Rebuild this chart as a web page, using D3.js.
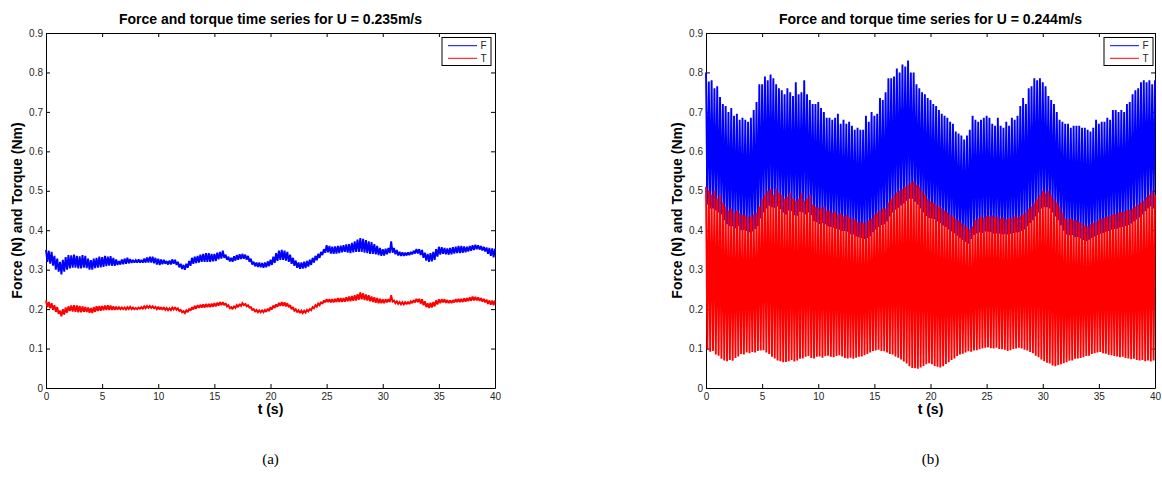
<!DOCTYPE html>
<html>
<head>
<meta charset="utf-8">
<script src="https://cdn.jsdelivr.net/npm/d3@7"></script>
<style>body{margin:0;background:#fff}</style>
</head>
<body>
<svg id="fig" width="1162" height="485"></svg>
<script>
// ---- data (one peak / one trough per oscillation cycle) ----
// panel (a): U = 0.235 m/s
const aForcePeak = [
  0.35, 0.348, 0.345, 0.335, 0.328, 0.32, 0.325, 0.332, 0.337, 0.336, 0.338, 0.335, 0.334, 0.337, 0.335, 0.328, 0.324, 0.328, 0.33, 0.333,
  0.332, 0.335, 0.333, 0.334, 0.33, 0.326, 0.322, 0.326, 0.328, 0.33, 0.327, 0.325, 0.324, 0.326, 0.325, 0.328, 0.331, 0.333, 0.333, 0.33,
  0.328, 0.326, 0.325, 0.322, 0.323, 0.326, 0.325, 0.32, 0.315, 0.312, 0.315, 0.322, 0.33, 0.333, 0.335, 0.338, 0.34, 0.342, 0.342, 0.34,
  0.34, 0.343, 0.345, 0.348, 0.338, 0.333, 0.33, 0.334, 0.337, 0.339, 0.34, 0.338, 0.335, 0.328, 0.32, 0.318, 0.318, 0.317, 0.318, 0.321,
  0.325, 0.333, 0.342, 0.348, 0.35, 0.348, 0.345, 0.338, 0.33, 0.323, 0.318, 0.318, 0.32, 0.322, 0.325, 0.33, 0.335, 0.34, 0.345, 0.352,
  0.362, 0.36, 0.358, 0.359, 0.36, 0.361, 0.362, 0.364, 0.365, 0.368, 0.372, 0.376, 0.38, 0.378, 0.375, 0.372, 0.37, 0.365, 0.36, 0.355,
  0.352, 0.353, 0.355, 0.372, 0.355, 0.35, 0.345, 0.344, 0.343, 0.344, 0.345, 0.348, 0.352, 0.352, 0.35, 0.343, 0.34, 0.342, 0.345, 0.352,
  0.358, 0.357, 0.355, 0.354, 0.355, 0.357, 0.358, 0.36, 0.36, 0.359, 0.358, 0.36, 0.362, 0.363, 0.362, 0.36, 0.358, 0.356, 0.355, 0.354,
  0.353
];
const aForceTrough = [
  0.32, 0.315, 0.31, 0.3, 0.295, 0.288, 0.295, 0.3, 0.303, 0.305, 0.305, 0.303, 0.303, 0.305, 0.304, 0.3, 0.3, 0.304, 0.305, 0.306,
  0.307, 0.309, 0.31, 0.31, 0.31, 0.312, 0.313, 0.314, 0.315, 0.316, 0.317, 0.318, 0.318, 0.318, 0.318, 0.318, 0.318, 0.318, 0.316, 0.313,
  0.312, 0.314, 0.315, 0.313, 0.313, 0.315, 0.312, 0.306, 0.302, 0.3, 0.305, 0.31, 0.315, 0.317, 0.318, 0.32, 0.32, 0.32, 0.32, 0.321,
  0.322, 0.326, 0.328, 0.33, 0.325, 0.321, 0.32, 0.323, 0.325, 0.327, 0.328, 0.325, 0.32, 0.313, 0.309, 0.307, 0.306, 0.305, 0.306, 0.309,
  0.312, 0.317, 0.322, 0.325, 0.325, 0.323, 0.32, 0.315, 0.31, 0.305, 0.302, 0.303, 0.304, 0.308, 0.312, 0.318, 0.324, 0.33, 0.337, 0.343,
  0.344, 0.341, 0.34, 0.341, 0.342, 0.344, 0.345, 0.343, 0.342, 0.344, 0.345, 0.345, 0.345, 0.343, 0.342, 0.34, 0.34, 0.339, 0.337, 0.335,
  0.336, 0.339, 0.342, 0.343, 0.339, 0.336, 0.335, 0.335, 0.336, 0.337, 0.339, 0.341, 0.341, 0.337, 0.33, 0.323, 0.32, 0.321, 0.325, 0.333,
  0.338, 0.34, 0.339, 0.338, 0.339, 0.341, 0.342, 0.342, 0.343, 0.344, 0.346, 0.348, 0.35, 0.352, 0.351, 0.349, 0.346, 0.34, 0.335, 0.331
];
const aTorquePeak = [
  0.222, 0.218, 0.215, 0.21, 0.205, 0.196, 0.2, 0.204, 0.207, 0.209, 0.21, 0.209, 0.208, 0.207, 0.205, 0.204, 0.203, 0.205, 0.207, 0.208,
  0.208, 0.209, 0.21, 0.209, 0.207, 0.206, 0.205, 0.204, 0.204, 0.205, 0.206, 0.204, 0.203, 0.204, 0.205, 0.207, 0.208, 0.208, 0.207, 0.206,
  0.206, 0.205, 0.205, 0.203, 0.202, 0.204, 0.205, 0.202, 0.198, 0.195, 0.197, 0.201, 0.205, 0.208, 0.21, 0.211, 0.212, 0.213, 0.213, 0.214,
  0.215, 0.216, 0.218, 0.218, 0.215, 0.21, 0.205, 0.208, 0.21, 0.213, 0.215, 0.213, 0.21, 0.205, 0.2, 0.198, 0.197, 0.197, 0.198, 0.201,
  0.205, 0.209, 0.212, 0.216, 0.218, 0.217, 0.215, 0.21, 0.205, 0.2, 0.197, 0.196, 0.196, 0.198, 0.2, 0.205, 0.21, 0.214, 0.218, 0.222,
  0.225, 0.225, 0.225, 0.226, 0.228, 0.228, 0.228, 0.23, 0.232, 0.233, 0.235, 0.238, 0.242, 0.24, 0.237, 0.235, 0.232, 0.23, 0.228, 0.226,
  0.225, 0.225, 0.225, 0.235, 0.222, 0.22, 0.218, 0.218, 0.218, 0.219, 0.22, 0.223, 0.226, 0.226, 0.225, 0.22, 0.215, 0.216, 0.218, 0.222,
  0.225, 0.225, 0.225, 0.223, 0.222, 0.223, 0.225, 0.226, 0.226, 0.227, 0.228, 0.23, 0.232, 0.231, 0.23, 0.228, 0.226, 0.224, 0.222, 0.222,
  0.222
];
const aTorqueTrough = [
  0.205, 0.202, 0.198, 0.193, 0.188, 0.182, 0.186, 0.191, 0.195, 0.194, 0.193, 0.192, 0.192, 0.193, 0.193, 0.191, 0.19, 0.193, 0.195, 0.196,
  0.197, 0.198, 0.198, 0.198, 0.198, 0.199, 0.2, 0.2, 0.199, 0.2, 0.2, 0.2, 0.2, 0.201, 0.201, 0.202, 0.203, 0.203, 0.202, 0.2,
  0.199, 0.198, 0.198, 0.197, 0.197, 0.199, 0.198, 0.195, 0.192, 0.19, 0.192, 0.196, 0.199, 0.201, 0.203, 0.204, 0.204, 0.205, 0.205, 0.206,
  0.207, 0.209, 0.21, 0.21, 0.207, 0.202, 0.2, 0.203, 0.205, 0.208, 0.21, 0.207, 0.204, 0.198, 0.194, 0.192, 0.192, 0.192, 0.193, 0.195,
  0.199, 0.203, 0.206, 0.208, 0.208, 0.207, 0.205, 0.2, 0.196, 0.192, 0.19, 0.19, 0.191, 0.194, 0.197, 0.202, 0.206, 0.21, 0.213, 0.217,
  0.218, 0.217, 0.217, 0.218, 0.218, 0.218, 0.219, 0.22, 0.22, 0.221, 0.222, 0.224, 0.225, 0.223, 0.222, 0.22, 0.218, 0.216, 0.215, 0.215,
  0.215, 0.217, 0.218, 0.219, 0.215, 0.213, 0.212, 0.212, 0.212, 0.213, 0.215, 0.217, 0.218, 0.214, 0.21, 0.205, 0.203, 0.204, 0.207, 0.212,
  0.215, 0.217, 0.216, 0.215, 0.215, 0.217, 0.218, 0.218, 0.218, 0.219, 0.22, 0.221, 0.222, 0.222, 0.221, 0.219, 0.217, 0.213, 0.211, 0.21
];

// panel (b): U = 0.244 m/s
const bForcePeak = [
  0.80, 0.777, 0.78, 0.76, 0.765, 0.738, 0.72, 0.715, 0.70, 0.71, 0.69, 0.695, 0.68, 0.685, 0.68, 0.675, 0.685, 0.705, 0.725, 0.77,
  0.77, 0.79, 0.78, 0.795, 0.785, 0.77, 0.76, 0.755, 0.745, 0.76, 0.75, 0.74, 0.775, 0.745, 0.75, 0.78, 0.745, 0.73, 0.72, 0.72,
  0.725, 0.71, 0.70, 0.685, 0.685, 0.68, 0.685, 0.695, 0.67, 0.68, 0.67, 0.675, 0.665, 0.655, 0.66, 0.655, 0.655, 0.69, 0.675, 0.70,
  0.69, 0.695, 0.735, 0.73, 0.75, 0.785, 0.785, 0.79, 0.81, 0.80, 0.82, 0.815, 0.83, 0.80, 0.80, 0.77, 0.76, 0.75, 0.745, 0.735,
  0.73, 0.72, 0.715, 0.705, 0.695, 0.69, 0.685, 0.675, 0.67, 0.65, 0.645, 0.64, 0.63, 0.64, 0.655, 0.69, 0.68, 0.675, 0.68, 0.685,
  0.69, 0.685, 0.67, 0.665, 0.685, 0.665, 0.66, 0.675, 0.665, 0.685, 0.68, 0.69, 0.715, 0.735, 0.72, 0.76, 0.765, 0.785, 0.78, 0.785,
  0.775, 0.765, 0.74, 0.73, 0.72, 0.70, 0.68, 0.675, 0.67, 0.67, 0.66, 0.665, 0.665, 0.665, 0.66, 0.66, 0.655, 0.65, 0.66, 0.68,
  0.67, 0.675, 0.675, 0.685, 0.68, 0.705, 0.705, 0.70, 0.705, 0.70, 0.72, 0.725, 0.745, 0.755, 0.76, 0.775, 0.78, 0.775, 0.78, 0.77,
  0.78
];
const bForceTrough = [
  0.465, 0.455, 0.455, 0.45, 0.445, 0.44, 0.425, 0.415, 0.41, 0.41, 0.405, 0.41, 0.40, 0.40, 0.398, 0.395, 0.397, 0.403, 0.41, 0.43,
  0.445, 0.455, 0.462, 0.458, 0.457, 0.46, 0.453, 0.445, 0.44, 0.45, 0.448, 0.438, 0.437, 0.447, 0.445, 0.44, 0.445, 0.438, 0.423, 0.42,
  0.416, 0.418, 0.415, 0.41, 0.408, 0.406, 0.404, 0.401, 0.398, 0.398, 0.396, 0.39, 0.389, 0.384, 0.382, 0.38, 0.378, 0.38, 0.385, 0.395,
  0.402, 0.408, 0.413, 0.415, 0.422, 0.435, 0.445, 0.452, 0.457, 0.463, 0.468, 0.475, 0.48, 0.48, 0.472, 0.465, 0.455, 0.445, 0.436, 0.431,
  0.43, 0.428, 0.422, 0.418, 0.412, 0.408, 0.402, 0.397, 0.392, 0.386, 0.38, 0.375, 0.37, 0.366, 0.378, 0.388, 0.392, 0.394, 0.393, 0.397,
  0.396, 0.395, 0.391, 0.392, 0.391, 0.389, 0.39, 0.389, 0.391, 0.393, 0.394, 0.395, 0.398, 0.402, 0.41, 0.418, 0.425, 0.435, 0.445, 0.455,
  0.458, 0.458, 0.455, 0.445, 0.435, 0.425, 0.412, 0.399, 0.389, 0.387, 0.388, 0.383, 0.383, 0.379, 0.375, 0.372, 0.376, 0.38, 0.384, 0.388,
  0.391, 0.393, 0.396, 0.398, 0.401, 0.403, 0.404, 0.407, 0.409, 0.411, 0.413, 0.417, 0.422, 0.427, 0.432, 0.44, 0.448, 0.455, 0.46, 0.455
];
const bTorquePeak = [
  0.51, 0.50, 0.49, 0.50, 0.48, 0.49, 0.47, 0.46, 0.45, 0.455, 0.445, 0.45, 0.443, 0.44, 0.438, 0.435, 0.434, 0.44, 0.445, 0.46,
  0.48, 0.49, 0.50, 0.505, 0.49, 0.505, 0.495, 0.49, 0.48, 0.485, 0.495, 0.48, 0.475, 0.48, 0.495, 0.475, 0.48, 0.49, 0.465, 0.46,
  0.458, 0.455, 0.46, 0.45, 0.45, 0.445, 0.447, 0.44, 0.443, 0.435, 0.44, 0.432, 0.43, 0.428, 0.42, 0.422, 0.418, 0.42, 0.425, 0.43,
  0.44, 0.445, 0.45, 0.455, 0.455, 0.47, 0.48, 0.49, 0.495, 0.50, 0.505, 0.51, 0.515, 0.52, 0.525, 0.515, 0.51, 0.50, 0.49, 0.48,
  0.473, 0.47, 0.465, 0.46, 0.455, 0.45, 0.445, 0.44, 0.434, 0.43, 0.425, 0.418, 0.413, 0.408, 0.403, 0.41, 0.426, 0.43, 0.435, 0.432,
  0.437, 0.435, 0.438, 0.433, 0.434, 0.43, 0.432, 0.428, 0.43, 0.432, 0.435, 0.433, 0.437, 0.44, 0.445, 0.455, 0.46, 0.47, 0.48, 0.49,
  0.50, 0.495, 0.50, 0.49, 0.48, 0.47, 0.46, 0.445, 0.43, 0.428, 0.43, 0.425, 0.426, 0.42, 0.418, 0.412, 0.41, 0.415, 0.418, 0.422,
  0.426, 0.43, 0.432, 0.435, 0.437, 0.44, 0.442, 0.445, 0.446, 0.448, 0.45, 0.452, 0.455, 0.46, 0.465, 0.47, 0.475, 0.485, 0.49, 0.50,
  0.49
];
const bTorqueTrough = [
  0.097, 0.092, 0.094, 0.085, 0.082, 0.074, 0.07, 0.068, 0.071, 0.069, 0.076, 0.08, 0.086, 0.085, 0.09, 0.088, 0.091, 0.09, 0.094, 0.095,
  0.096, 0.09, 0.086, 0.079, 0.075, 0.07, 0.068, 0.065, 0.066, 0.068, 0.071, 0.067, 0.07, 0.074, 0.075, 0.079, 0.081, 0.076, 0.075, 0.079,
  0.08, 0.077, 0.081, 0.082, 0.079, 0.078, 0.081, 0.083, 0.08, 0.076, 0.075, 0.077, 0.074, 0.077, 0.079, 0.08, 0.083, 0.086, 0.09, 0.094,
  0.095, 0.097, 0.094, 0.093, 0.09, 0.086, 0.085, 0.08, 0.077, 0.072, 0.067, 0.062, 0.055, 0.051, 0.05, 0.049, 0.052, 0.056, 0.06, 0.063,
  0.06, 0.056, 0.054, 0.052, 0.055, 0.061, 0.065, 0.071, 0.075, 0.081, 0.085, 0.087, 0.09, 0.093, 0.092, 0.095, 0.096, 0.098, 0.1, 0.102,
  0.103, 0.101, 0.1, 0.102, 0.099, 0.098, 0.097, 0.094, 0.096, 0.099, 0.1, 0.102, 0.1, 0.097, 0.095, 0.091, 0.088, 0.082, 0.078, 0.072,
  0.068, 0.064, 0.062, 0.057, 0.055, 0.058, 0.06, 0.063, 0.065, 0.069, 0.07, 0.074, 0.075, 0.076, 0.078, 0.081, 0.082, 0.086, 0.088, 0.09,
  0.091, 0.088, 0.087, 0.084, 0.083, 0.081, 0.08, 0.078, 0.079, 0.076, 0.075, 0.073, 0.074, 0.071, 0.07, 0.071, 0.068, 0.07, 0.067, 0.07
];

const tEnd = 40;
const xTicks = [0, 5, 10, 15, 20, 25, 30, 35, 40];
const yTicks = [0, 0.1, 0.2, 0.3, 0.4, 0.5, 0.6, 0.7, 0.8, 0.9];
const titles = ["Force and torque time series for U = 0.235m/s", "Force and torque time series for U = 0.244m/s"];
const captions = ["(a)", "(b)"];
const seriesNames = ["F", "T"];
const seriesColors = ["#0000ff", "#ff0000"];

// ---- layout ----
const sans = "'Liberation Sans', Arial, Helvetica, sans-serif";
const plotW = 449, plotTop = 33, plotBottom = 388;

const svg = d3.select("#fig")
  .attr("font-family", sans);

svg.append("rect").attr("width", 1162).attr("height", 485).attr("fill", "#fff");

const panels = [
  {left: 46, legendRight: 491, title: titles[0], caption: captions[0],
   series: [[aForcePeak, aForceTrough], [aTorquePeak, aTorqueTrough]]},
  {left: 706, legendRight: 1153, title: titles[1], caption: captions[1],
   series: [[bForcePeak, bForceTrough], [bTorquePeak, bTorqueTrough]]}
];

// alternate peak / trough samples along the time axis
function toPoints(peaks, troughs) {
  const dt = tEnd / (peaks.length - 1);
  const pts = [];
  peaks.forEach((p, i) => {
    pts.push([i * dt, p]);
    if (i < troughs.length) pts.push([(i + 0.5) * dt, troughs[i]]);
  });
  return pts;
}

function styleAxis(g) {
  g.attr("font-family", sans).attr("font-size", 10).attr("color", "#000");
  g.selectAll("text").attr("fill", "#262626");
  g.select(".domain").attr("stroke-width", 1);
}

function drawPanel(p) {
  const x = d3.scaleLinear().domain([0, tEnd]).range([p.left, p.left + plotW]);
  const y = d3.scaleLinear().domain([0, 0.9]).range([plotBottom, plotTop]);
  const g = svg.append("g");

  g.append("g")
    .attr("transform", `translate(0,${plotBottom})`)
    .call(d3.axisBottom(x).tickValues(xTicks).tickSizeInner(-4).tickSizeOuter(0).tickPadding(5))
    .call(styleAxis);
  g.append("g")
    .attr("transform", `translate(0,${plotTop})`)
    .call(d3.axisTop(x).tickValues(xTicks).tickSizeInner(-4).tickSizeOuter(0).tickFormat(""))
    .call(styleAxis);
  g.append("g")
    .attr("transform", `translate(${p.left},0)`)
    .call(d3.axisLeft(y).tickValues(yTicks).tickSizeInner(-4).tickSizeOuter(0).tickPadding(3)
      .tickFormat(d => d === 0 ? "0" : d3.format(".1f")(d)))
    .call(styleAxis);
  g.append("g")
    .attr("transform", `translate(${p.left + plotW},0)`)
    .call(d3.axisRight(y).tickValues(yTicks).tickSizeInner(-4).tickSizeOuter(0).tickFormat(""))
    .call(styleAxis);

  const line = d3.line().x(d => x(d[0])).y(d => y(d[1]));
  p.series.forEach((s, k) => {
    g.append("path")
      .datum(toPoints(s[0], s[1]))
      .attr("fill", "none")
      .attr("stroke", seriesColors[k])
      .attr("stroke-width", 1.9)
      .attr("stroke-linejoin", "miter")
      .attr("stroke-miterlimit", 2)
      .attr("d", line);
  });

  const cx = p.left + plotW / 2;
  g.append("text")
    .attr("x", cx).attr("y", 24)
    .attr("text-anchor", "middle")
    .attr("font-weight", "bold").attr("font-size", 14)
    .text(p.title);
  g.append("text")
    .attr("transform", `translate(${p.left - 24},${(plotTop + plotBottom) / 2}) rotate(-90)`)
    .attr("text-anchor", "middle")
    .attr("font-weight", "bold").attr("font-size", 14)
    .text("Force (N) and Torque (Nm)");
  g.append("text")
    .attr("x", cx).attr("y", 414)
    .attr("text-anchor", "middle")
    .attr("font-weight", "bold").attr("font-size", 14)
    .text("t (s)");
  g.append("text")
    .attr("x", cx).attr("y", 464)
    .attr("text-anchor", "middle")
    .attr("font-family", "'Liberation Serif', 'Times New Roman', serif")
    .attr("font-size", 15)
    .text(p.caption);

  // legend
  const lg = g.append("g").attr("transform", `translate(${p.legendRight - 49},37.5)`);
  lg.append("rect")
    .attr("width", 49).attr("height", 28)
    .attr("fill", "#fff").attr("stroke", "#000").attr("stroke-width", 1);
  seriesNames.forEach((name, k) => {
    const ly = 8.2 + k * 12.6;
    lg.append("line")
      .attr("x1", 6).attr("x2", 35).attr("y1", ly).attr("y2", ly)
      .attr("stroke", seriesColors[k]).attr("stroke-width", 1);
    lg.append("text")
      .attr("x", 38.5).attr("y", ly + 3.6)
      .attr("font-size", 10).attr("fill", "#262626")
      .text(name);
  });
}

panels.forEach(drawPanel);
</script>
</body>
</html>
